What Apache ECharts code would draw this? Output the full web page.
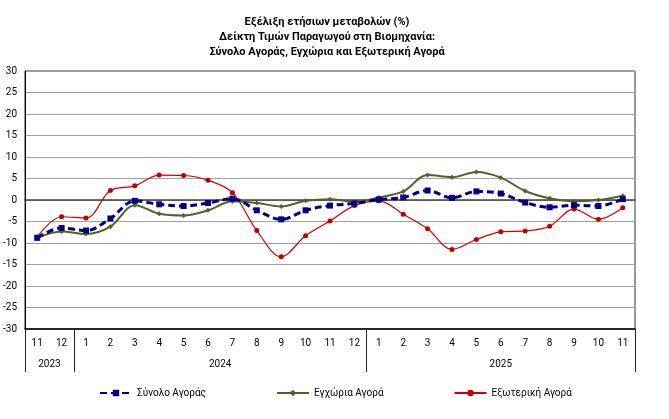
<!DOCTYPE html>
<html>
<head>
<meta charset="utf-8">
<script src="https://cdn.jsdelivr.net/npm/echarts@6/dist/echarts.min.js"></script>
<style>html,body{margin:0;padding:0;background:#fff}#c{width:669px;height:419px}</style>
</head>
<body>
<div id="c"></div>
<script>
const months = ['11','12','1','2','3','4','5','6','7','8','9','10','11','12','1','2','3','4','5','6','7','8','9','10','11'];
const yearLabels = ['2023','2024','2025'];
const seriesNames = ['Σύνολο Αγοράς','Εγχώρια Αγορά','Εξωτερική Αγορά'];
const total = [-8.8,-6.5,-7.1,-4.3,-0.2,-1.0,-1.4,-0.7,0.3,-2.4,-4.5,-2.4,-1.3,-0.8,0.1,0.6,2.2,0.5,2.0,1.5,-0.6,-1.7,-1.2,-1.4,0.2];
const domestic = [-8.8,-7.3,-7.9,-6.2,-1.2,-3.2,-3.6,-2.4,-0.3,-0.7,-1.5,-0.2,0.2,-0.4,0.6,2.0,5.8,5.3,6.5,5.2,2.1,0.4,-0.3,0.0,1.0];
const external = [-8.6,-3.9,-4.2,2.2,3.3,5.8,5.7,4.6,1.7,-7.1,-13.2,-8.3,-4.9,-1.3,-0.2,-3.3,-6.7,-11.5,-9.2,-7.4,-7.2,-6.1,-2.1,-4.5,-1.8];

// year axis: half-month slots (boundaryGap false), 51 points
const yearSlots = [];
for (let k = 0; k <= months.length * 2; k++) yearSlots.push('');
yearSlots[2] = yearLabels[0];
yearSlots[16] = yearLabels[1];
yearSlots[39] = yearLabels[2];
const yearBoundaries = [0, 4, 28, 50];

const FONT = 'Roboto, "Noto Sans", sans-serif';
const chart = echarts.init(document.getElementById('c'));
chart.setOption({
  animation: false,
  backgroundColor: '#fff',
  textStyle: { fontFamily: FONT },
  title: {
    text: 'Εξέλιξη ετήσιων μεταβολών (%)\nΔείκτη Τιμών Παραγωγού στη Βιομηχανία:\nΣύνολο Αγοράς, Εγχώρια και Εξωτερική Αγορά',
    left: 322, top: 10, textAlign: 'center',
    textStyle: { fontSize: 11, fontWeight: 'bold', color: '#000', lineHeight: 15, fontFamily: FONT }
  },
  grid: { left: 25, right: 34, top: 71, bottom: 90, show: true, borderColor: '#333', borderWidth: 1 },
  legend: {
    data: seriesNames, left: 94, top: 383, itemGap: 70, itemWidth: 32, itemHeight: 8,
    textStyle: { fontSize: 10, color: '#000', fontFamily: FONT }
  },
  xAxis: [
    { type: 'category', data: months, position: 'bottom', boundaryGap: true,
      axisLine: { onZero: false, lineStyle: { color: '#000', width: 1.5 } },
      axisTick: { interval: 0, length: 22, lineStyle: { color: '#000' } },
      axisLabel: { interval: 0, margin: 9, fontSize: 10, color: '#000', fontFamily: FONT },
      splitLine: { show: false } },
    { type: 'category', data: months, position: 'bottom', boundaryGap: true,
      axisLine: { onZero: true, onZeroAxisIndex: 0, lineStyle: { color: '#404040', width: 1.5 } },
      axisTick: { interval: 0, length: 4, lineStyle: { color: '#000' } },
      axisLabel: { show: false }, splitLine: { show: false } },
    { type: 'category', data: months, position: 'top', boundaryGap: true,
      axisLine: { onZero: true, onZeroAxisIndex: 0, show: false },
      axisTick: { interval: 0, length: 4, lineStyle: { color: '#000' } },
      axisLabel: { show: false }, splitLine: { show: false } },
    { type: 'category', data: yearSlots, position: 'bottom', boundaryGap: false,
      axisLine: { onZero: false, show: false },
      axisTick: { interval: function (i) { return yearBoundaries.indexOf(i) >= 0; }, length: 43, lineStyle: { color: '#222' } },
      axisLabel: { interval: 0, margin: 30, fontSize: 10, color: '#000', fontFamily: FONT },
      splitLine: { show: false } }
  ],
  yAxis: {
    type: 'value', min: -30, max: 30, interval: 5,
    axisLine: { show: true, lineStyle: { color: '#000' } },
    axisTick: { show: false },
    axisLabel: { fontSize: 10, color: '#000', margin: 8, fontFamily: FONT },
    splitLine: { lineStyle: { color: '#a0a0a0', width: 1.2 } }
  },
  series: [
    { name: seriesNames[0], type: 'line', xAxisIndex: 0, data: total, smooth: 0.35,
      symbol: 'rect', symbolSize: 6, z: 5,
      itemStyle: { color: '#000080' },
      lineStyle: { color: '#000080', width: 3, type: [7, 4] } },
    { name: seriesNames[1], type: 'line', xAxisIndex: 0, data: domestic, smooth: 0.35,
      symbol: 'diamond', symbolSize: 5, z: 4,
      itemStyle: { color: '#4f6228' },
      lineStyle: { color: '#4f6228', width: 2 } },
    { name: seriesNames[2], type: 'line', xAxisIndex: 0, data: external, smooth: 0.35,
      symbol: 'circle', symbolSize: 5, z: 3,
      itemStyle: { color: '#c00000' },
      lineStyle: { color: '#d00000', width: 1.2 } }
  ]
});
</script>
</body>
</html>
